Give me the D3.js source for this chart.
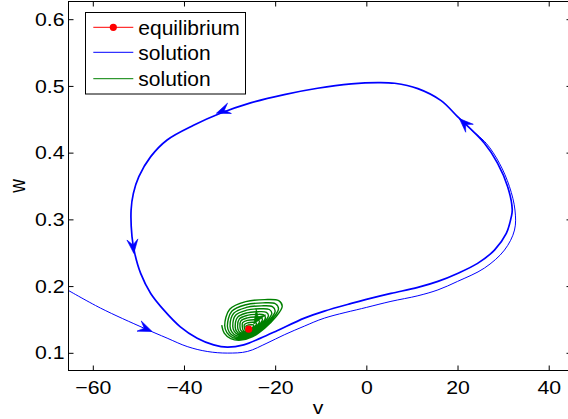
<!DOCTYPE html>
<html>
<head>
<meta charset="utf-8">
<script src="https://cdn.jsdelivr.net/npm/d3@7"></script>
<style>
  body { margin: 0; background: #fff; }
  text { font-family: "Liberation Sans", Arial, Helvetica, sans-serif; fill: #000; }
</style>
</head>
<body>
<svg id="graph" width="568" height="419"></svg>
<script>
// axis ticks
var xTicks = [-60, -40, -20, 0, 20, 40];
var yTicks = [0.1, 0.2, 0.3, 0.4, 0.5, 0.6];

// equilibrium point (v, w)
var equilibrium = [-25.8, 0.1355];

// blue limit cycle
var limitCycle = [
  [-51.6, 0.314], [-51.4, 0.274], [-50.8, 0.249], [-49.5, 0.219], [-47.3, 0.189],
  [-44.4, 0.164], [-40.8, 0.139], [-37.1, 0.122], [-33.5, 0.112], [-30.5, 0.1085],
  [-26.9, 0.112], [-23.2, 0.122], [-19.6, 0.133], [-13.6, 0.152], [-9.2, 0.1625],
  [-3.3, 0.174], [0.0, 0.180], [5.4, 0.189], [11.3, 0.198], [15.7, 0.207],
  [20.0, 0.219], [24.4, 0.234], [28.1, 0.254], [30.7, 0.279], [31.8, 0.304],
  [32.0, 0.315], [31.0, 0.349], [28.8, 0.384], [25.9, 0.414],
  [20.0, 0.454], [16.4, 0.478], [11.3, 0.496], [6.2, 0.504], [2.5, 0.505],
  [-3.3, 0.503], [-10.7, 0.4965], [-18.0, 0.487], [-25.4, 0.4745], [-32.0, 0.459],
  [-37.9, 0.441], [-43.7, 0.419], [-47.3, 0.394], [-49.9, 0.364], [-51.1, 0.339]
];

// blue transient coming in from the left
var transient = [
  [-66.0, 0.196], [-58.3, 0.167], [-48.8, 0.137], [-43.7, 0.122], [-39.3, 0.1094],
  [-34.9, 0.102], [-30.5, 0.0996], [-26.1, 0.102], [-21.8, 0.1145], [-18.0, 0.127],
  [-13.6, 0.140], [-9.2, 0.152], [0.0, 0.168], [5.4, 0.1771], [11.3, 0.1855],
  [15.7, 0.1943], [20.0, 0.207], [25.9, 0.227], [30.3, 0.254], [32.5, 0.284],
  [32.6, 0.314], [31.4, 0.349], [29.2, 0.384], [26.3, 0.414], [23.0, 0.434]
];

// green spiral, one row per turn, going round counter-clockwise towards the equilibrium
var spiral = [
  [[-31.72, 0.1415], [-31.17, 0.1295], [-29.75, 0.1213], [-27.55, 0.1190], [-24.92, 0.1243], [-22.29, 0.1370],
   [-19.88, 0.1535], [-18.45, 0.1699], [-19.22, 0.1782], [-22.29, 0.1797], [-26.46, 0.1767], [-29.97, 0.1654]],
  [[-31.07, 0.1408], [-30.58, 0.1302], [-29.31, 0.1228], [-27.36, 0.1208], [-25.02, 0.1255], [-22.68, 0.1368],
   [-20.53, 0.1515], [-19.26, 0.1661], [-19.95, 0.1735], [-22.68, 0.1748], [-26.39, 0.1721], [-29.51, 0.1622]],
  [[-30.48, 0.1402], [-30.05, 0.1308], [-28.92, 0.1243], [-27.19, 0.1225], [-25.11, 0.1266], [-23.03, 0.1367],
   [-21.12, 0.1497], [-20.00, 0.1627], [-20.60, 0.1692], [-23.03, 0.1704], [-26.32, 0.1680], [-29.09, 0.1592]],
  [[-29.89, 0.1396], [-29.51, 0.1314], [-28.52, 0.1257], [-27.01, 0.1241], [-25.20, 0.1278], [-23.38, 0.1365],
   [-21.72, 0.1479], [-20.73, 0.1593], [-21.26, 0.1649], [-23.38, 0.1660], [-26.25, 0.1639], [-28.68, 0.1562]],
  [[-29.29, 0.1390], [-28.97, 0.1320], [-28.13, 0.1271], [-26.84, 0.1258], [-25.28, 0.1289], [-23.73, 0.1364],
   [-22.31, 0.1461], [-21.47, 0.1558], [-21.92, 0.1607], [-23.73, 0.1616], [-26.19, 0.1598], [-28.26, 0.1532]],
  [[-28.76, 0.1385], [-28.49, 0.1325], [-27.77, 0.1284], [-26.68, 0.1273], [-25.36, 0.1299], [-24.05, 0.1363],
   [-22.84, 0.1445], [-22.13, 0.1527], [-22.51, 0.1568], [-24.05, 0.1576], [-26.13, 0.1561], [-27.88, 0.1505]],
  [[-28.23, 0.1380], [-28.00, 0.1330], [-27.42, 0.1297], [-26.52, 0.1288], [-25.44, 0.1309], [-24.36, 0.1361],
   [-23.37, 0.1429], [-22.79, 0.1496], [-23.10, 0.1530], [-24.36, 0.1536], [-26.07, 0.1524], [-27.51, 0.1478]],
  [[-27.70, 0.1374], [-27.52, 0.1336], [-27.06, 0.1310], [-26.36, 0.1302], [-25.52, 0.1319], [-24.68, 0.1360],
   [-23.91, 0.1413], [-23.45, 0.1465], [-23.70, 0.1492], [-24.68, 0.1496], [-26.01, 0.1487], [-27.13, 0.1451]],
  [[-27.16, 0.1369], [-27.04, 0.1341], [-26.71, 0.1322], [-26.20, 0.1317], [-25.60, 0.1329], [-24.99, 0.1359],
   [-24.44, 0.1396], [-24.11, 0.1434], [-24.29, 0.1453], [-24.99, 0.1457], [-25.95, 0.1450], [-26.76, 0.1424]],
  [[-26.69, 0.1364], [-26.61, 0.1346], [-26.39, 0.1334], [-26.06, 0.1330], [-25.67, 0.1338], [-25.27, 0.1357],
   [-24.91, 0.1382], [-24.70, 0.1407], [-24.81, 0.1419], [-25.27, 0.1421], [-25.90, 0.1417], [-26.43, 0.1400]]
];

// direction arrows: [tailV, tailW, tipV, tipW]
var blueArrows = [
  [-29.8, 0.467, -32.9, 0.459],
  [-51.3, 0.269, -51.0, 0.249],
  [-49.8, 0.140, -47.0, 0.132],
  [22.4, 0.438, 20.4, 0.451]
];
var greenArrows = [
  [-23.2, 0.160, -24.7, 0.143]
];

var legendItems = ["equilibrium", "solution", "solution"];
var legendColors = ["#ff0000", "#0000ff", "#008000"];

var svg = d3.select("#graph");

var x = d3.scaleLinear().domain([-65.33, 45]).range([68.5, 571.5]);
var y = d3.scaleLinear().domain([0.0735, 0.6265]).range([370.5, 1.5]);

svg.append("defs").append("clipPath").attr("id", "plotclip")
  .append("rect")
  .attr("x", x.range()[0]).attr("y", y.range()[1])
  .attr("width", x.range()[1] - x.range()[0])
  .attr("height", y.range()[0] - y.range()[1]);

var plot = svg.append("g").attr("clip-path", "url(#plotclip)");

var line = d3.line()
  .x(function (d) { return x(d[0]); })
  .y(function (d) { return y(d[1]); })
  .curve(d3.curveCatmullRom);

// thin transient
plot.append("path")
  .datum(transient)
  .attr("d", line)
  .attr("fill", "none")
  .attr("stroke", "#0000ff")
  .attr("stroke-width", 1);

// limit cycle (traced many times, so it looks heavier)
plot.append("path")
  .datum(limitCycle)
  .attr("d", line.curve(d3.curveCatmullRomClosed))
  .attr("fill", "none")
  .attr("stroke", "#0000ff")
  .attr("stroke-width", 1.7);
line.curve(d3.curveCatmullRom);

// green spiral into the equilibrium
var spiralPts = [];
spiral.forEach(function (turn) { spiralPts = spiralPts.concat(turn); });
spiralPts.push(equilibrium);
plot.append("path")
  .datum(spiralPts)
  .attr("d", line)
  .attr("fill", "none")
  .attr("stroke", "#008000")
  .attr("stroke-width", 1.4);

function drawArrows(list, color) {
  plot.selectAll(null)
    .data(list)
    .enter().append("path")
    .attr("d", "M0,0L-14,-5.5L-8.5,0L-14,5.5Z")
    .attr("fill", color)
    .attr("stroke", color)
    .attr("stroke-width", 0.6)
    .attr("transform", function (a) {
      var x0 = x(a[0]), y0 = y(a[1]), x1 = x(a[2]), y1 = y(a[3]);
      var ang = Math.atan2(y1 - y0, x1 - x0) * 180 / Math.PI;
      return "translate(" + x1 + "," + y1 + ") rotate(" + ang + ")";
    });
}
drawArrows(blueArrows, "#0000ff");
drawArrows(greenArrows, "#008000");

// equilibrium marker
plot.append("circle")
  .attr("cx", x(equilibrium[0]))
  .attr("cy", y(equilibrium[1]))
  .attr("r", 3.6)
  .attr("fill", "#ff0000");

// axes
var stretch = "scale(1.12,1)";

var gx = svg.append("g")
  .attr("transform", "translate(0," + y.range()[0] + ")")
  .call(d3.axisBottom(x).tickValues(xTicks).tickSize(-5).tickPadding(9.6).tickFormat(d3.format("d")));
var gy = svg.append("g")
  .attr("transform", "translate(" + x.range()[0] + ",0)")
  .call(d3.axisLeft(y).tickValues(yTicks).tickSize(-5).tickPadding(3.6).tickFormat(d3.format(".1f")));
var gt = svg.append("g")
  .attr("transform", "translate(0," + y.range()[1] + ")")
  .call(d3.axisTop(x).tickValues(xTicks).tickSize(-5).tickFormat(""));
var gr = svg.append("g")
  .attr("transform", "translate(" + x.range()[1] + ",0)")
  .call(d3.axisRight(y).tickValues(yTicks).tickSize(-5).tickFormat(""));

[gx, gy, gt, gr].forEach(function (g) {
  g.select(".domain").remove();
  g.selectAll("line").attr("stroke", "#000");
  g.selectAll("text")
    .attr("font-size", 19)
    .attr("font-family", "Liberation Sans, Arial, sans-serif")
    .attr("transform", stretch);
});

svg.append("rect")
  .attr("x", x.range()[0]).attr("y", y.range()[1])
  .attr("width", x.range()[1] - x.range()[0])
  .attr("height", y.range()[0] - y.range()[1])
  .attr("fill", "none")
  .attr("stroke", "#000")
  .attr("stroke-width", 1);

// axis labels
svg.append("text")
  .attr("transform", "translate(318,413.5) " + stretch)
  .attr("text-anchor", "middle")
  .attr("font-size", 19)
  .text("v");
svg.append("text")
  .attr("transform", "translate(25,186) " + stretch + " rotate(-90)")
  .attr("text-anchor", "middle")
  .attr("font-size", 19)
  .text("w");

// legend
var lg = svg.append("g");
lg.append("rect")
  .attr("x", 85.5).attr("y", 12.5)
  .attr("width", 160).attr("height", 81.5)
  .attr("fill", "#fff")
  .attr("stroke", "#000");
var rows = [27.3, 52.3, 78.7];
legendItems.forEach(function (t, i) {
  lg.append("line")
    .attr("x1", 93.3).attr("x2", 133.3)
    .attr("y1", rows[i]).attr("y2", rows[i])
    .attr("stroke", legendColors[i])
    .attr("stroke-width", 1);
  if (i === 0) {
    lg.append("circle")
      .attr("cx", 113.3).attr("cy", rows[i]).attr("r", 3.6)
      .attr("fill", legendColors[i]);
  }
  lg.append("text")
    .attr("x", 138.3).attr("y", rows[i] + 7.3)
    .attr("font-size", 21)
    .text(t);
});
</script>
</body>
</html>
